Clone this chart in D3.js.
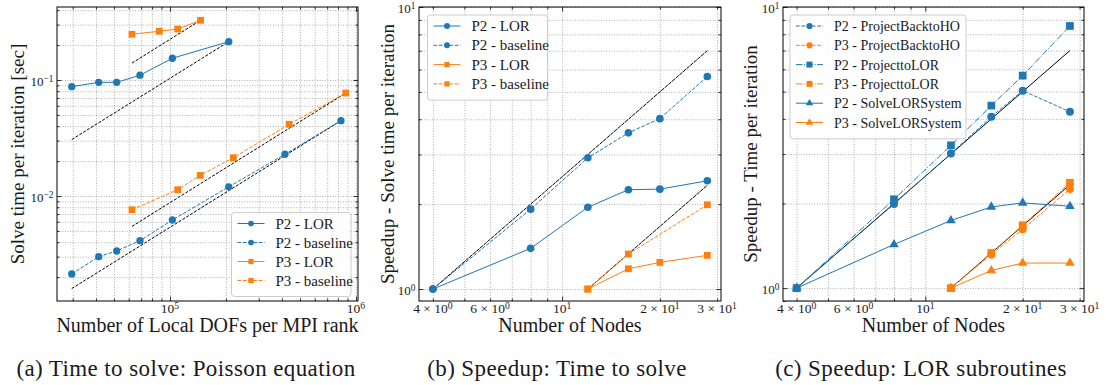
<!DOCTYPE html>
<html>
<head>
<meta charset="utf-8">
<script src="https://cdn.jsdelivr.net/npm/d3@7"></script>
<style>
body { margin: 0; background: #fff; }
svg { display: block; }
</style>
</head>
<body>
<div class="chart"></div>
<script>
// (a) solve time per iteration vs local DOFs per MPI rank
var p2LorDofs = [29650, 41400, 51700, 69000, 103000, 207000]
var p2LorTime = [0.0876, 0.0955, 0.0955, 0.110, 0.154, 0.214]
var p2BaseDofs = [29650, 41400, 51700, 69000, 103000, 207000, 415000, 830000]
var p2BaseTime = [0.00213, 0.0030, 0.00336, 0.00412, 0.00621, 0.0120, 0.0229, 0.0446]
var p3LorDofs = [62500, 87500, 110000, 146000]
var p3LorTime = [0.248, 0.263, 0.275, 0.327]
var p3BaseDofs = [62500, 110000, 145500, 219000, 437000, 881000]
var p3BaseTime = [0.00762, 0.01133, 0.01507, 0.0214, 0.0415, 0.0772]

// (b) speedup of the solve
var p2Nodes = [4, 8, 12, 16, 20, 28]
var p3Nodes = [12, 16, 20, 28]
var p3BaseNodes = [12, 16, 28]
var p2LorSpeedup = [1, 1.394, 1.95, 2.25, 2.26, 2.42]
var p2BaseSpeedup = [1, 1.92, 2.92, 3.58, 4.02, 5.67]
var p3LorSpeedup = [1, 1.18, 1.243, 1.317]
var p3BaseSpeedup = [1, 1.331, 1.99]

// (c) speedup of LOR subroutines
var p2BackHO = [1, 1.99, 3.01, 4.07, 5.04, 4.24]
var p3BackHO = [1, 1.318, 1.62, 2.25]
var p2ToLor = [1, 2.07, 3.22, 4.46, 5.70, 8.56]
var p3ToLor = [1, 1.333, 1.674, 2.37]
var p2SolveLor = [1, 1.43, 1.74, 1.945, 2.01, 1.956]
var p3SolveLor = [1, 1.156, 1.228, 1.228]

// tick labels
var dofTickLabels = [{ v: 1e5, pre: '10', exp: '5' }, { v: 1e6, pre: '10', exp: '6' }]
var timeTickLabels = [{ v: 1e-1, pre: '10', exp: '\u22121' }, { v: 1e-2, pre: '10', exp: '\u22122' }]
var nodeTickLabels = [
    { v: 4, pre: '4 \u00d7 10', exp: '0' },
    { v: 6, pre: '6 \u00d7 10', exp: '0' },
    { v: 10, pre: '10', exp: '1' },
    { v: 20, pre: '2 \u00d7 10', exp: '1' },
    { v: 30, pre: '3 \u00d7 10', exp: '1' }
]
var speedTickLabels = [{ v: 1, pre: '10', exp: '0' }, { v: 10, pre: '10', exp: '1' }]

var BLUE = '#1f77b4', ORANGE = '#ff7f0e'
var DASH = '3.7,1.6', DASHDOT = '6.4,1.6,1,1.6'
var SERIF = "'Liberation Serif', 'DejaVu Serif', serif"

var svg = d3.select('.chart').append('svg').attr('width', 1106).attr('height', 385)
    .attr('font-family', SERIF)

function zip(xs, ys) { return xs.map((v, i) => [v, ys[i]]) }

// all 1..9 x 10^k values inside a domain
function logTicks(dom) {
    var out = []
    for (var k = Math.floor(Math.log10(dom[0])); k <= Math.ceil(Math.log10(dom[1])); k++) {
        for (var m = 1; m < 10; m++) {
            var v = m * Math.pow(10, k)
            if (v >= dom[0] * 0.9999 && v <= dom[1] * 1.0001) out.push(+v.toPrecision(6))
        }
    }
    return out
}

function supLabel(sel, t) {
    sel.append('tspan').text(t.pre)
    sel.append('tspan').attr('dy', '-0.42em').attr('font-size', '0.72em').text(t.exp)
}

function txt(g) {
    return g.append('text').attr('font-family', SERIF).attr('fill', '#1a1a1a')
}

function drawPanel(p) {
    var g = svg.append('g')
    var x = d3.scaleLog().domain(p.xDomain).range([p.x0, p.x1])
    var y = d3.scaleLog().domain(p.yDomain).range([p.y1, p.y0])
    var w = p.x1 - p.x0, h = p.y1 - p.y0

    var xAll = logTicks(p.xDomain), yAll = logTicks(p.yDomain)
    var isMajor = v => Math.abs(Math.log10(v) - Math.round(Math.log10(v))) < 1e-6
    var xMaj = xAll.filter(isMajor), xMin = xAll.filter(v => !isMajor(v))
    var yMaj = yAll.filter(isMajor), yMin = yAll.filter(v => !isMajor(v))

    // dotted grid on every major and minor tick
    g.append('g').attr('transform', `translate(0,${p.y1})`)
        .call(d3.axisBottom(x).tickValues(xAll).tickSize(-h).tickFormat(''))
        .call(s => s.select('.domain').remove())
        .selectAll('line').attr('stroke', '#9a9a9a').attr('stroke-width', 0.8).attr('stroke-dasharray', '1,1.6')
    g.append('g').attr('transform', `translate(${p.x0},0)`)
        .call(d3.axisLeft(y).tickValues(yAll).tickSize(-w).tickFormat(''))
        .call(s => s.select('.domain').remove())
        .selectAll('line').attr('stroke', '#9a9a9a').attr('stroke-width', 0.8).attr('stroke-dasharray', '1,1.6')

    // inward ticks on all four sides
    function ticks(axisFn, scale, vals, len, tr) {
        g.append('g').attr('transform', tr)
            .call(axisFn(scale).tickValues(vals).tickSize(-len).tickFormat(''))
            .call(s => s.select('.domain').remove())
            .selectAll('line').attr('stroke', '#000').attr('stroke-width', 0.8)
    }
    ticks(d3.axisBottom, x, xMaj, 4.5, `translate(0,${p.y1})`)
    ticks(d3.axisBottom, x, xMin, 2.5, `translate(0,${p.y1})`)
    ticks(d3.axisTop, x, xMaj, 4.5, `translate(0,${p.y0})`)
    ticks(d3.axisTop, x, xMin, 2.5, `translate(0,${p.y0})`)
    ticks(d3.axisLeft, y, yMaj, 4.5, `translate(${p.x0},0)`)
    ticks(d3.axisLeft, y, yMin, 2.5, `translate(${p.x0},0)`)
    ticks(d3.axisRight, y, yMaj, 4.5, `translate(${p.x1},0)`)
    ticks(d3.axisRight, y, yMin, 2.5, `translate(${p.x1},0)`)

    // tick labels
    p.xLabels.forEach(t => {
        txt(g).attr('x', x(t.v)).attr('y', p.y1 + 12).attr('text-anchor', 'middle')
            .attr('font-size', 13.5).call(supLabel, t)
    })
    p.yLabels.forEach(t => {
        txt(g).attr('x', p.x0 - 3.5).attr('y', y(t.v) + 5.5).attr('text-anchor', 'end')
            .attr('font-size', 13).call(supLabel, t)
    })

    // ideal scaling lines
    var line = d3.line().x(d => x(d[0])).y(d => y(d[1]))
    p.ideals.forEach(s => {
        g.append('path').attr('d', line(s.pts)).attr('fill', 'none').attr('stroke', '#000')
            .attr('stroke-width', 1).attr('stroke-dasharray', s.dash || null)
    })

    // data series
    p.series.forEach(s => {
        g.append('path').attr('d', line(s.pts)).attr('fill', 'none').attr('stroke', s.color)
            .attr('stroke-width', 1).attr('stroke-dasharray', s.dash || null)
        g.selectAll(null).data(s.pts).enter().append('path')
            .attr('transform', d => `translate(${x(d[0])},${y(d[1])})`)
            .attr('d', d3.symbol().type(s.symbol).size(s.size))
            .attr('fill', s.color)
    })

    // frame
    g.append('rect').attr('x', p.x0).attr('y', p.y0).attr('width', w).attr('height', h)
        .attr('fill', 'none').attr('stroke', '#000').attr('stroke-width', 1)

    // legend
    var L = p.legend
    var lg = g.append('g')
    lg.append('rect').attr('x', L.x).attr('y', L.y).attr('width', L.w).attr('height', L.step * p.series.length + 8)
        .attr('rx', 3).attr('fill', '#fff').attr('fill-opacity', 0.85).attr('stroke', '#cccccc').attr('stroke-width', 1)
    p.series.forEach((s, i) => {
        var cy = L.y + 11 + i * L.step
        lg.append('line').attr('x1', L.x + 6).attr('x2', L.x + 33).attr('y1', cy).attr('y2', cy)
            .attr('stroke', s.color).attr('stroke-width', 1).attr('stroke-dasharray', s.dash || null)
        lg.append('path').attr('transform', `translate(${L.x + 19.5},${cy})`)
            .attr('d', d3.symbol().type(s.symbol).size(s.size * 0.6)).attr('fill', s.color)
        txt(lg).attr('x', L.x + 44).attr('y', cy + 5).attr('font-size', L.font).text(s.label)
    })

    // axis titles and caption
    txt(g).attr('x', (p.x0 + p.x1) / 2).attr('y', 332).attr('text-anchor', 'middle')
        .attr('font-size', 20).text(p.xTitle)
    txt(g).attr('transform', `translate(${p.yTitleX},${(p.y0 + p.y1) / 2}) rotate(-90)`)
        .attr('text-anchor', 'middle').attr('dy', '0.35em').attr('font-size', 19).text(p.yTitle)
    txt(g).attr('x', p.capX).attr('y', 376).attr('text-anchor', 'middle')
        .attr('font-size', 23).attr('letter-spacing', 0.4).text(p.caption)
}

var circle = d3.symbolCircle, square = d3.symbolSquare, tri = d3.symbolTriangle

function ideal(xs, ys, fromEnd) {
    var i0 = 0, i1 = xs.length - 1
    if (fromEnd) return [[xs[i0], ys[i1] * xs[i0] / xs[i1]], [xs[i1], ys[i1]]]
    return [[xs[i0], ys[i0]], [xs[i1], ys[i0] * xs[i1] / xs[i0]]]
}

drawPanel({
    x0: 57, x1: 358, y0: 7, y1: 301,
    xDomain: [24700, 1.025e6], yDomain: [0.001245, 0.4258],
    xLabels: dofTickLabels, yLabels: timeTickLabels,
    xTitle: 'Number of Local DOFs per MPI rank', yTitle: 'Solve time per iteration [sec]',
    yTitleX: 17, capX: 186, caption: '(a) Time to solve: Poisson equation',
    legend: { x: 231.5, y: 212.5, w: 119.5, step: 19, font: 15 },
    ideals: [
        { pts: ideal(p2LorDofs, p2LorTime, true), dash: '3,1.5' },
        { pts: ideal(p3LorDofs, p3LorTime, true), dash: '3,1.5' },
        { pts: ideal(p2BaseDofs, p2BaseTime, true), dash: '3,1.5' },
        { pts: ideal(p3BaseDofs, p3BaseTime, true), dash: '3,1.5' }
    ],
    series: [
        { label: 'P2 - LOR', pts: zip(p2LorDofs, p2LorTime), color: BLUE, symbol: circle, size: 42 },
        { label: 'P2 - baseline', pts: zip(p2BaseDofs, p2BaseTime), color: BLUE, dash: DASH, symbol: circle, size: 42 },
        { label: 'P3 - LOR', pts: zip(p3LorDofs, p3LorTime), color: ORANGE, symbol: square, size: 46 },
        { label: 'P3 - baseline', pts: zip(p3BaseDofs, p3BaseTime), color: ORANGE, dash: DASH, symbol: square, size: 46 }
    ]
})

drawPanel({
    x0: 419, x1: 721, y0: 7, y1: 301,
    xDomain: [3.625, 30.85], yDomain: [0.907, 10],
    xLabels: nodeTickLabels, yLabels: speedTickLabels,
    xTitle: 'Number of Nodes', yTitle: 'Speedup - Solve time per iteration',
    yTitleX: 387, capX: 557, caption: '(b) Speedup: Time to solve',
    legend: { x: 427.5, y: 15, w: 120, step: 19.3, font: 15 },
    ideals: [
        { pts: ideal(p2Nodes, p2LorSpeedup, false), dash: '4,0.8' },
        { pts: ideal(p3Nodes, p3LorSpeedup, false), dash: '4,0.8' }
    ],
    series: [
        { label: 'P2 - LOR', pts: zip(p2Nodes, p2LorSpeedup), color: BLUE, symbol: circle, size: 46 },
        { label: 'P2 - baseline', pts: zip(p2Nodes, p2BaseSpeedup), color: BLUE, dash: DASH, symbol: circle, size: 46 },
        { label: 'P3 - LOR', pts: zip(p3Nodes, p3LorSpeedup), color: ORANGE, symbol: square, size: 46 },
        { label: 'P3 - baseline', pts: zip(p3BaseNodes, p3BaseSpeedup), color: ORANGE, dash: DASH, symbol: square, size: 46 }
    ]
})

drawPanel({
    x0: 783, x1: 1084, y0: 7, y1: 301,
    xDomain: [3.63, 30.95], yDomain: [0.9, 10],
    xLabels: nodeTickLabels, yLabels: speedTickLabels,
    xTitle: 'Number of Nodes', yTitle: 'Speedup - Time per iteration',
    yTitleX: 750, capX: 921, caption: '(c) Speedup: LOR subroutines',
    legend: { x: 790, y: 15, w: 176, step: 19.3, font: 14 },
    ideals: [
        { pts: ideal(p2Nodes, p2SolveLor, false) },
        { pts: ideal(p3Nodes, p3SolveLor, false) }
    ],
    series: [
        { label: 'P2 - ProjectBacktoHO', pts: zip(p2Nodes, p2BackHO), color: BLUE, dash: DASH, symbol: circle, size: 50 },
        { label: 'P3 - ProjectBacktoHO', pts: zip(p3Nodes, p3BackHO), color: ORANGE, dash: DASH, symbol: circle, size: 50 },
        { label: 'P2 - ProjecttoLOR', pts: zip(p2Nodes, p2ToLor), color: BLUE, dash: DASHDOT, symbol: square, size: 60 },
        { label: 'P3 - ProjecttoLOR', pts: zip(p3Nodes, p3ToLor), color: ORANGE, dash: DASHDOT, symbol: square, size: 60 },
        { label: 'P2 - SolveLORSystem', pts: zip(p2Nodes, p2SolveLor), color: BLUE, symbol: tri, size: 40 },
        { label: 'P3 - SolveLORSystem', pts: zip(p3Nodes, p3SolveLor), color: ORANGE, symbol: tri, size: 40 }
    ]
})
</script>
</body>
</html>
